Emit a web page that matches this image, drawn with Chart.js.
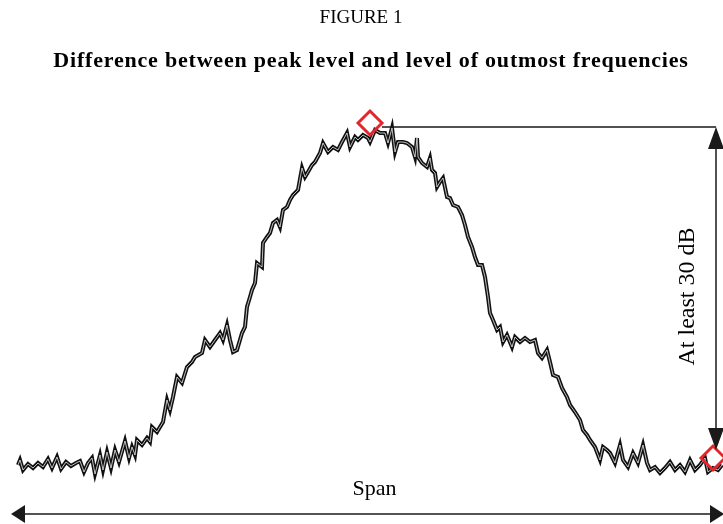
<!DOCTYPE html>
<html>
<head>
<meta charset="utf-8">
<script src="https://cdn.jsdelivr.net/npm/chart.js@4"></script>
<style>
  html, body { margin: 0; padding: 0; background: #fff; }
  #wrap { width: 723px; height: 524px; }
</style>
</head>
<body>
<div id="wrap"><canvas id="chart" width="723" height="524"></canvas></div>
<script>
// Spectrum trace (frequency bin, level in dB relative to peak)
const freqBins = [
  0, 2, 5, 10, 15, 20, 25, 30, 34, 39, 43, 48, 53, 58, 62, 66, 70, 74, 77, 82,
  85, 89, 93, 97, 101, 107, 111, 114, 117, 119, 124, 129, 132, 134, 139, 145, 149, 152, 155, 159,
  164, 169, 174, 177, 184, 187, 192, 197, 202, 205, 209, 212, 215, 219, 224, 227, 229, 232, 234, 237,
  239, 244, 245, 249, 252, 255, 259, 262, 265, 269, 272, 275, 280, 284, 287, 290, 294, 297, 302, 305,
  310, 315, 320, 324, 329, 332, 337, 340, 345, 350, 352, 357, 362, 367, 370, 374, 377, 380, 385, 389,
  394, 397, 399, 400, 404, 409, 412, 414, 417, 419, 422, 425, 429, 432, 435, 440, 444, 447, 450, 454,
  457, 460, 464, 467, 470, 472, 475, 479, 482, 485, 489, 494, 497, 502, 507, 512, 517, 520, 524, 529,
  532, 535, 540, 544, 549, 552, 557, 562, 565, 569, 572, 577, 582, 585, 589, 592, 597, 602, 605, 610,
  615, 620, 625, 629, 632, 637, 642, 647, 652, 657, 662, 667, 672, 677, 682, 687, 690, 695, 700, 704
];
const levelDb = [
  -34.0, -33.5, -34.5, -33.9, -34.3, -33.8, -34.2, -33.4, -34.3, -33.2, -34.4, -33.7, -34.1, -33.8, -33.6, -34.7, -33.8, -33.3, -34.9, -33.0,
  -34.5, -32.7, -34.3, -32.5, -33.7, -31.6, -33.3, -32.2, -33.0, -31.5, -32.0, -31.3, -31.7, -30.2, -30.7, -29.7, -27.5, -28.5, -27.2, -25.2,
  -25.8, -24.2, -23.7, -23.2, -22.8, -21.5, -22.2, -21.5, -20.8, -21.5, -20.0, -21.5, -22.7, -22.5, -20.8, -20.2, -18.2, -17.2, -16.5, -15.8,
  -13.8, -14.2, -11.8, -11.2, -10.8, -9.8, -9.5, -10.2, -8.5, -8.2, -7.5, -7.0, -6.5, -4.3, -5.2, -4.7, -4.0, -3.7, -2.8, -1.8,
  -2.7, -2.2, -2.5, -1.7, -0.8, -2.2, -1.2, -1.5, -1.0, -1.3, -1.7, -0.5, -0.8, -0.8, -1.8, -0.3, -2.7, -1.7, -1.7, -1.8,
  -2.2, -3.2, -1.3, -3.2, -3.8, -4.2, -3.3, -4.5, -4.8, -6.2, -5.7, -5.3, -7.2, -7.3, -8.0, -8.2, -9.0, -10.0, -11.2, -12.2,
  -13.2, -14.0, -14.0, -15.2, -17.2, -18.8, -19.5, -20.5, -20.2, -21.7, -21.0, -22.2, -21.2, -21.7, -21.3, -21.7, -21.5, -22.8, -23.3, -22.5,
  -23.7, -25.0, -25.2, -26.3, -27.2, -28.0, -28.7, -29.5, -30.5, -31.0, -31.5, -32.2, -33.5, -32.2, -32.5, -32.8, -33.8, -32.0, -33.5, -34.2,
  -32.8, -33.8, -32.0, -33.8, -34.5, -34.2, -34.8, -34.3, -33.7, -34.5, -34.0, -34.7, -33.5, -34.5, -34.0, -33.3, -34.7, -34.3, -34.5, -34.0
];

// Marker positions (peak and outermost frequency)
const markerBins = [352, 695];
const markerDb = [0.2, -33.3];

// Annotation levels / extents
const refLineDb = -0.2;      // horizontal line from the peak
const arrowBottomDb = -32.5; // tip of the lower arrow head
const spanBins = [-7, 706];  // span arrow extent
const spanArrowDb = -38.9;

const figureLabel = 'FIGURE 1';
const titleText = 'Difference between peak level and level of outmost frequencies';
const levelLabel = 'At least 30 dB';
const spanLabel = 'Span';

const SERIF = '"Liberation Serif", "DejaVu Serif", serif';

function arrowHead(ctx, tipX, tipY, dir, len, half) {
  // dir: 'up' | 'down' | 'left' | 'right'
  ctx.beginPath();
  ctx.moveTo(tipX, tipY);
  if (dir === 'up') { ctx.lineTo(tipX - half, tipY + len); ctx.lineTo(tipX + half, tipY + len); }
  if (dir === 'down') { ctx.lineTo(tipX - half, tipY - len); ctx.lineTo(tipX + half, tipY - len); }
  if (dir === 'left') { ctx.lineTo(tipX + len, tipY - half); ctx.lineTo(tipX + len, tipY + half); }
  if (dir === 'right') { ctx.lineTo(tipX - len, tipY - half); ctx.lineTo(tipX - len, tipY + half); }
  ctx.closePath();
  ctx.fill();
}

const annotations = {
  id: 'annotations',
  beforeDraw(chart) {
    const { ctx } = chart;
    ctx.save();
    ctx.fillStyle = '#fff';
    ctx.fillRect(0, 0, chart.width, chart.height);
    ctx.restore();
  },
  afterDatasetsDraw(chart) {
    const { ctx, scales: { x, y } } = chart;
    const c = '#1a1a1a';
    ctx.save();
    ctx.strokeStyle = c;
    ctx.fillStyle = c;
    ctx.lineWidth = 1.5;

    // horizontal reference line from the peak marker to the right
    const peakX = x.getPixelForValue(markerBins[0]) + 12;
    const vx = x.getPixelForValue(markerBins[1]) + 3;
    const topY = y.getPixelForValue(refLineDb);
    const botY = y.getPixelForValue(arrowBottomDb);
    ctx.beginPath();
    ctx.moveTo(peakX, topY);
    ctx.lineTo(vx, topY);
    ctx.moveTo(vx, topY + 10);
    ctx.lineTo(vx, botY - 10);
    ctx.stroke();
    arrowHead(ctx, vx, topY, 'up', 22, 8);
    arrowHead(ctx, vx, botY, 'down', 22, 8);

    // span arrow
    const sy = y.getPixelForValue(spanArrowDb);
    const sx0 = x.getPixelForValue(spanBins[0]);
    const sx1 = x.getPixelForValue(spanBins[1]);
    ctx.beginPath();
    ctx.moveTo(sx0 + 10, sy);
    ctx.lineTo(sx1 - 10, sy);
    ctx.stroke();
    arrowHead(ctx, sx0, sy, 'left', 14, 9);
    arrowHead(ctx, sx1, sy, 'right', 14, 9);

    // texts
    ctx.fillStyle = '#000';
    ctx.textAlign = 'center';
    ctx.textBaseline = 'middle';
    ctx.font = '22px ' + SERIF;
    ctx.fillText(spanLabel, (sx0 + sx1) / 2 + 7, sy - 25);

    ctx.save();
    ctx.font = '24px ' + SERIF;
    ctx.translate(vx - 28, (topY + botY) / 2 + 8);
    ctx.rotate(-Math.PI / 2);
    ctx.fillText(levelLabel, 0, 0);
    ctx.restore();

    ctx.font = '19px ' + SERIF;
    ctx.fillText(figureLabel, 361, 18);
    ctx.font = 'bold 22px ' + SERIF;
    ctx.letterSpacing = '0.8px';
    ctx.fillText(titleText, 371, 61);
    ctx.restore();
  }
};

const tracePoints = freqBins.map((f, i) => ({ x: f, y: levelDb[i] }));

new Chart(document.getElementById('chart'), {
  type: 'line',
  data: {
    datasets: [
      {
        label: 'markers',
        type: 'scatter',
        data: markerBins.map((f, i) => ({ x: f, y: markerDb[i] })),
        pointStyle: 'rectRot',
        pointRadius: 12,
        pointBorderWidth: 3,
        pointBorderColor: '#e3262b',
        pointBackgroundColor: 'rgba(0,0,0,0)',
        order: 0
      },
      {
        label: 'trace core',
        data: tracePoints,
        borderColor: 'rgba(255,255,255,0.9)',
        borderWidth: 0.8,
        pointRadius: 0,
        tension: 0,
        order: 1
      },
      {
        label: 'trace',
        data: tracePoints,
        borderColor: '#111111',
        borderWidth: 4,
        pointRadius: 0,
        tension: 0,
        order: 2
      }
    ]
  },
  options: {
    responsive: false,
    animation: false,
    devicePixelRatio: 1,
    layout: { autoPadding: false, padding: { left: 18, right: 1, top: 105, bottom: 39 } },
    scales: {
      x: { type: 'linear', min: 0, max: 704, display: false },
      y: { type: 'linear', min: -36, max: 2, display: false }
    },
    plugins: {
      legend: { display: false },
      tooltip: { enabled: false }
    },
    clip: false
  },
  plugins: [annotations]
});
</script>
</body>
</html>
